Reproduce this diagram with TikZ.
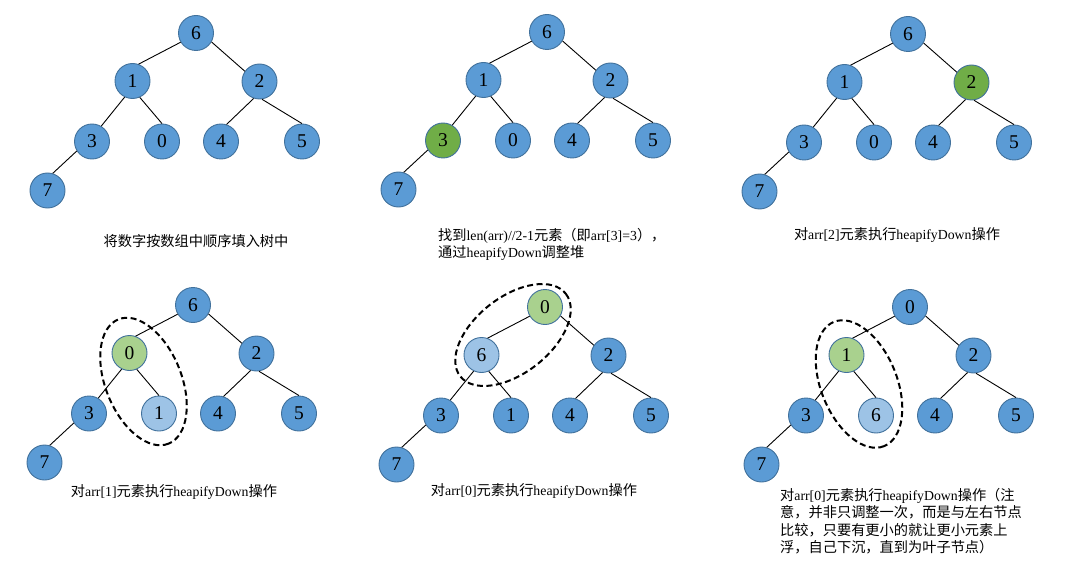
\documentclass[tikz,border=0pt]{standalone}
\usepackage{fontspec}
\setmainfont{Liberation Serif}
\newfontfamily\cj[Scale=1.03]{Noto Sans CJK SC}
\definecolor{nb}{HTML}{5B9BD5}
\definecolor{ng}{HTML}{70AD47}
\definecolor{nlg}{HTML}{A9D18E}
\definecolor{nlb}{HTML}{9DC3E6}
\definecolor{bd}{HTML}{41719C}
\tikzset{
  nd/.style={circle, minimum size=35pt, inner sep=0pt, draw=bd, line width=0.9pt, fill=#1,
    font=\fontsize{19.5}{19.5}\selectfont},
  edge/.style={draw=black, line width=0.9pt},
  hl/.style={draw=black, line width=2pt, dash pattern=on 6pt off 3.5pt},
  captxt/.style={inner sep=0pt, font=\fontsize{13.8}{17.5}\selectfont}
}
\newcommand\heap[3]{%
  \begin{scope}[shift={#2}]
    \coordinate (#1p1) at (0,0);
    \coordinate (#1p2) at (-63.5,48);
    \coordinate (#1p3) at (63.5,48.5);
    \coordinate (#1p4) at (-104,108.5);
    \coordinate (#1p5) at (-34,108.5);
    \coordinate (#1p6) at (25,108.5);
    \coordinate (#1p7) at (106,108.5);
    \coordinate (#1p8) at (-148.5,157.5);
  \end{scope}
  \foreach \st/\lb [count=\i] in {#3}{
    \node[nd=\st] (#1n\i) at (#1p\i) {\lb};
  }
  \draw[edge] (#1n1.211) -- (#1n2.70);
  \draw[edge] (#1n1.330) -- (#1n3.145);
  \draw[edge] (#1n2.244) -- (#1n4.59);
  \draw[edge] (#1n2.294) -- (#1n5.90);
  \draw[edge] (#1n3.251) -- (#1n6.72);
  \draw[edge] (#1n3.278) -- (#1n7.90);
  \draw[edge] (#1n4.212) -- (#1n8.73);
}
\begin{document}
\begin{tikzpicture}[x=1pt,y=-1pt]
\useasboundingbox (0,0) rectangle (1067,572);

\heap{a}{(196,33)}{nb/6,nb/1,nb/2,nb/3,nb/0,nb/4,nb/5,nb/7}
\heap{b}{(547,32)}{nb/6,nb/1,nb/2,ng/3,nb/0,nb/4,nb/5,nb/7}
\heap{c}{(908,34)}{nb/6,nb/1,ng/2,nb/3,nb/0,nb/4,nb/5,nb/7}
\heap{d}{(193,305)}{nb/6,nlg/0,nb/2,nb/3,nlb/1,nb/4,nb/5,nb/7}
\heap{e}{(545,307)}{nlg/0,nlb/6,nb/2,nb/3,nb/1,nb/4,nb/5,nb/7}
\heap{f}{(910,307)}{nb/0,nlg/1,nb/2,nb/3,nlb/6,nb/4,nb/5,nb/7}

\draw[hl, shift={(143.5,381.5)}, rotate=-68] (0,0) ellipse (67 and 38);
\draw[hl, shift={(513,335)}, rotate=38] (0,0) ellipse (67 and 38);
\draw[hl, shift={(859,384)}, rotate=-68] (0,0) ellipse (67 and 38);

\node[captxt] (t1) at (196,241) {\cj 将数字按数组中顺序填入树中};
\node[captxt, anchor=north west, align=left] (t2) at (438,228)
  {{\cj 找到}len(arr)//2-1{\cj 元素（即}arr[3]=3{\cj ），}\\
   {\cj 通过}heapifyDown{\cj 调整堆}};
\node[captxt] (t3) at (897,235) {{\cj 对}arr[2]{\cj 元素执行}heapifyDown{\cj 操作}};
\node[captxt] (t4) at (174,492) {{\cj 对}arr[1]{\cj 元素执行}heapifyDown{\cj 操作}};
\node[captxt] (t5) at (534,491) {{\cj 对}arr[0]{\cj 元素执行}heapifyDown{\cj 操作}};
\node[captxt, anchor=north west, align=left] (t6) at (780,488)
  {{\cj 对}arr[0]{\cj 元素执行}heapifyDown{\cj 操作（注}\\
   {\cj 意，并非只调整一次，而是与左右节点}\\
   {\cj 比较，只要有更小的就让更小元素上}\\
   {\cj 浮，自己下沉，直到为叶子节点）}};
\end{tikzpicture}
\end{document}
